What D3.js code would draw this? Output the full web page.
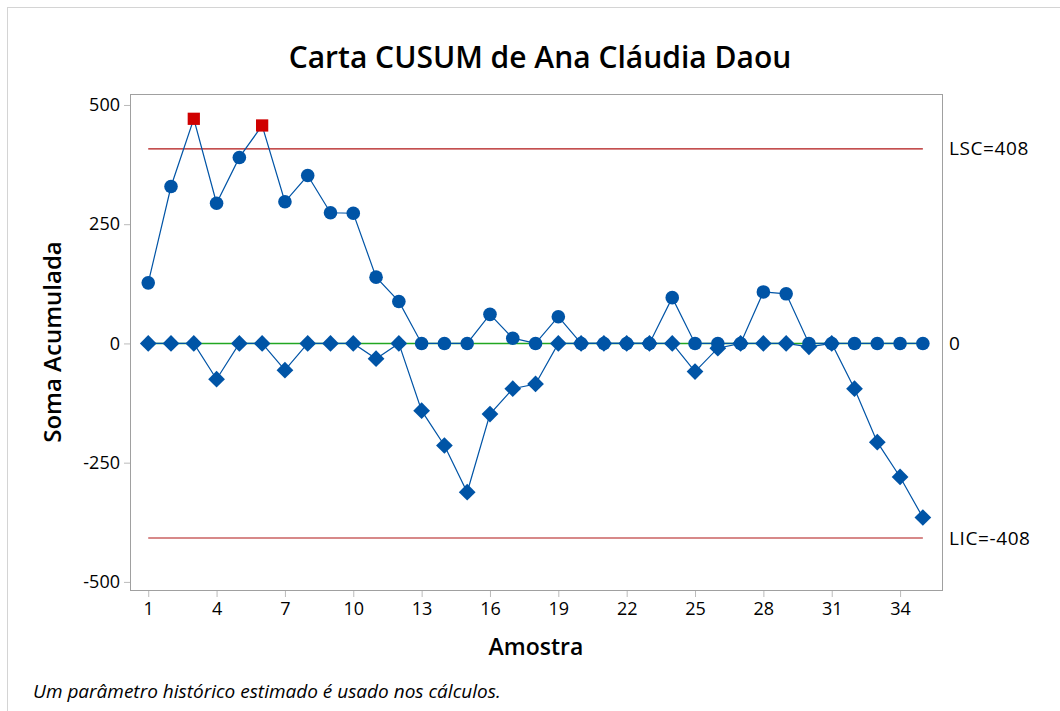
<!DOCTYPE html>
<html>
<head>
<meta charset="utf-8">
<script src="https://cdn.jsdelivr.net/npm/d3@7"></script>
<style>
  body { margin: 0; background: #fff; }
  text { font-family: "Open Sans", "Noto Sans", sans-serif; }
</style>
</head>
<body>
<div class="d3Chart"></div>
<script>
// amostras 1..35
var amostras = d3.range(1, 36);
// CUSUM superior (círculos)
var cusumSup = [127, 329, 471, 294, 390, 457, 297, 352, 274, 273,
  139, 88, 0, 0, 0, 61, 11, 0, 56, 0,
  0, 0, 0, 96, 0, 0, 0, 108, 104, 0,
  0, 0, 0, 0, 0];
// CUSUM inferior (losangos)
var cusumInf = [0, 0, 0, -75, 0, 0, -56, 0, 0, 0,
  -32, 0, -141, -214, -312, -148, -95, -85, 0, 0,
  0, 0, 0, 0, -59, -10, 0, 0, 0, -7,
  0, -95, -207, -280, -365];
var xTicks = [1, 4, 7, 10, 13, 16, 19, 22, 25, 28, 31, 34];
var yTicks = [-500, -250, 0, 250, 500];
var lsc = 408, lic = -408, centro = 0;

var width = 1060;
var height = 711;
var plot = { left: 130, top: 94, right: 942, bottom: 590 };
var azul = "#0054A6";

var svg = d3
  .select(".d3Chart")
  .append("svg")
  .attr("width", width)
  .attr("height", height);

// moldura externa
svg.append("rect")
  .attr("x", 7.5).attr("y", 7.5)
  .attr("width", width).attr("height", height)
  .attr("fill", "none").attr("stroke", "#d4d4d4");

var x = d3.scaleLinear().domain([0.2, 35.84]).range([plot.left, plot.right]);
var y = d3.scaleLinear().domain([-517, 523]).range([plot.bottom, plot.top]);

// eixos
svg.append("g")
  .attr("transform", `translate(0,${plot.bottom})`)
  .call(d3.axisBottom(x).tickValues(xTicks).tickSize(7).tickPadding(5))
  .call((g) => g.select(".domain").remove())
  .call((g) => g.selectAll("line").attr("stroke", "#bbb"))
  .call((g) => g.selectAll("text").attr("font-size", 18).attr("fill", "#000"));

svg.append("g")
  .attr("transform", `translate(${plot.left},0)`)
  .call(d3.axisLeft(y).tickValues(yTicks).tickSize(6).tickPadding(4)
    .tickFormat((d) => String(d)))
  .call((g) => g.select(".domain").remove())
  .call((g) => g.selectAll("line").attr("stroke", "#bbb"))
  .call((g) => g.selectAll("text").attr("font-size", 18).attr("fill", "#000"));

svg.append("rect")
  .attr("x", plot.left + 0.5).attr("y", plot.top + 0.5)
  .attr("width", plot.right - plot.left).attr("height", plot.bottom - plot.top)
  .attr("fill", "none").attr("stroke", "#a0a0a0");

// linhas de controle
var x0 = x(1), x1 = x(35);
svg.append("line")
  .attr("x1", x0).attr("x2", x1).attr("y1", y(centro)).attr("y2", y(centro))
  .attr("stroke", "#22a722").attr("stroke-width", 1.5);
[lsc, lic].forEach(function (v) {
  svg.append("line")
    .attr("x1", x0).attr("x2", x1).attr("y1", y(v)).attr("y2", y(v))
    .attr("stroke", "#b01515").attr("stroke-width", 1.2);
});

var linha = d3.line()
  .x((d, i) => x(amostras[i]))
  .y((d) => y(d));

svg.append("path").attr("d", linha(cusumSup))
  .attr("fill", "none").attr("stroke", azul).attr("stroke-width", 1.2);
svg.append("path").attr("d", linha(cusumInf))
  .attr("fill", "none").attr("stroke", azul).attr("stroke-width", 1.2);

// losangos
var losango = d3.symbol().type(d3.symbolSquare).size(140);
svg.append("g").selectAll("path")
  .data(cusumInf)
  .join("path")
  .attr("d", losango)
  .attr("transform", (d, i) => `translate(${x(amostras[i])},${y(d)}) rotate(45)`)
  .attr("fill", azul);

// círculos / quadrados fora de controle
svg.append("g").selectAll("path")
  .data(cusumSup)
  .join("path")
  .attr("d", (d) => d > lsc
    ? d3.symbol().type(d3.symbolSquare).size(150)()
    : d3.symbol().type(d3.symbolCircle).size(145)())
  .attr("transform", (d, i) => `translate(${x(amostras[i])},${y(d)})`)
  .attr("fill", (d) => (d > lsc ? "#d00000" : azul));

// rótulos à direita
var rotulos = [
  { v: lsc, t: "LSC=408" },
  { v: centro, t: "0" },
  { v: lic, t: "LIC=-408" },
];
svg.append("g").selectAll("text")
  .data(rotulos)
  .join("text")
  .attr("x", 949)
  .attr("y", (d) => y(d.v))
  .attr("dy", "0.35em")
  .attr("font-size", 19)
  .attr("letter-spacing", 0.6)
  .text((d) => d.t);

// títulos
svg.append("text")
  .attr("x", 540).attr("y", 68)
  .attr("text-anchor", "middle")
  .attr("font-size", 30).attr("font-weight", 600)
  .text("Carta CUSUM de Ana Cláudia Daou");

svg.append("text")
  .attr("x", 536).attr("y", 655)
  .attr("text-anchor", "middle")
  .attr("font-size", 23).attr("font-weight", 600)
  .text("Amostra");

svg.append("text")
  .attr("transform", `translate(61,${(plot.top + plot.bottom) / 2}) rotate(-90)`)
  .attr("text-anchor", "middle")
  .attr("font-size", 24).attr("font-weight", 600)
  .text("Soma Acumulada");

svg.append("text")
  .attr("x", 33).attr("y", 698)
  .attr("font-size", 19).attr("font-style", "italic")
  .text("Um parâmetro histórico estimado é usado nos cálculos.");
</script>
</body>
</html>
